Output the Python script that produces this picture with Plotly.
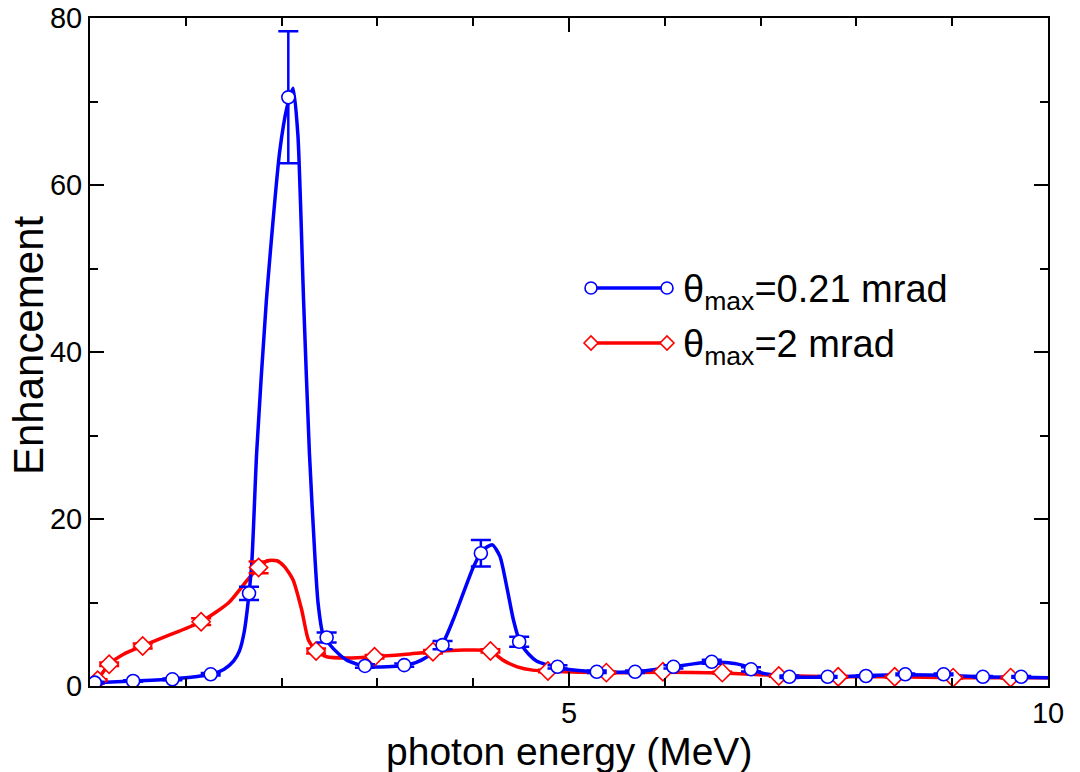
import plotly.graph_objects as go

# ---- measured points (markers with error bars) ----
blue_x = [0.05, 0.45, 0.86, 1.26, 1.66, 2.07, 2.47, 2.87, 3.28, 3.68, 4.08, 4.48, 4.88,
          5.29, 5.69, 6.09, 6.49, 6.90, 7.30, 7.70, 8.10, 8.51, 8.91, 9.32, 9.72]
blue_y = [0.4, 0.6, 0.8, 1.4, 11.1, 70.5, 5.8, 2.4, 2.5, 4.9, 15.9, 5.3, 2.3,
          1.7, 1.7, 2.3, 2.9, 2.0, 1.1, 1.1, 1.2, 1.4, 1.4, 1.1, 1.1]
blue_err = [0.1, 0.1, 0.1, 0.15, 0.8, 7.9, 0.6, 0.2, 0.2, 0.5, 1.6, 0.6, 0.2,
            0.15, 0.15, 0.2, 0.25, 0.25, 0.15, 0.1, 0.1, 0.1, 0.1, 0.1, 0.1]

red_x = [0.08, 0.20, 0.55, 1.16, 1.76, 2.36, 2.97, 3.58, 4.18, 4.78, 5.39, 5.98,
         6.60, 7.19, 7.81, 8.40, 9.01, 9.61]
red_y = [0.7, 2.6, 4.8, 7.7, 14.2, 4.2, 3.5, 4.1, 4.2, 1.8, 1.6, 1.7,
         1.6, 1.2, 1.1, 1.1, 1.0, 1.0]
red_err = [0.1, 0.2, 0.3, 0.4, 0.7, 0.3, 0.2, 0.2, 0.2, 0.15, 0.1, 0.1,
           0.1, 0.1, 0.1, 0.1, 0.1, 0.1]

# ---- smooth fitted curves ----
blue_curve_x = [0.0, 0.45, 0.86, 1.1, 1.26, 1.4, 1.5, 1.56, 1.61, 1.65, 1.69, 1.74, 1.84,
                1.98, 2.06, 2.12, 2.17, 2.23, 2.29, 2.35, 2.38, 2.43, 2.5, 2.6, 2.68, 2.87,
                3.1, 3.27, 3.4, 3.52, 3.68, 3.79, 3.86, 4.0, 4.1, 4.2, 4.28, 4.35, 4.42,
                4.49, 4.58, 4.66, 4.87, 5.1, 5.29, 5.7, 6.09, 6.49, 6.75, 6.89, 7.0, 7.15,
                7.3, 7.7, 8.1, 8.5, 8.9, 9.3, 9.7, 10.0]
blue_curve_y = [0.35, 0.6, 0.85, 1.1, 1.4, 2.0, 3.0, 4.2, 6.5, 10.0, 15.0, 28.0, 46.0,
                64.0, 69.5, 71.6, 66.0, 46.0, 28.0, 15.0, 10.0, 6.3, 5.0, 3.8, 3.1, 2.35,
                2.3, 2.45, 2.8, 3.5, 5.1, 7.9, 10.0, 14.2, 16.3, 16.9, 15.5, 11.9, 7.9,
                5.2, 3.8, 3.0, 2.2, 1.85, 1.7, 1.7, 2.3, 2.9, 2.65, 2.2, 1.6, 1.3,
                1.1, 1.05, 1.25, 1.35, 1.3, 1.1, 1.05, 1.0]

red_curve_x = [0.0, 0.08, 0.2, 0.35, 0.55, 0.85, 1.16, 1.45, 1.65, 1.76, 1.85, 1.95, 2.03,
               2.12, 2.21, 2.28, 2.36, 2.47, 2.68, 2.97, 3.3, 3.58, 3.9, 4.18, 4.31, 4.46,
               4.62, 4.78, 5.39, 5.98, 6.6, 7.19, 7.81, 8.4, 9.01, 9.61, 10.0]
red_curve_y = [0.1, 0.8, 2.6, 3.8, 4.8, 6.2, 7.7, 10.0, 12.8, 14.2, 15.0, 15.0, 14.3,
               12.7, 9.1, 5.5, 4.2, 3.5, 3.35, 3.5, 3.8, 4.1, 4.3, 4.2, 3.1, 2.3,
               1.9, 1.8, 1.6, 1.65, 1.55, 1.25, 1.1, 1.1, 1.0, 1.0, 1.0]

x_tickvals = [5, 10]
x_ticktext = ["5", "10"]
y_tickvals = [0, 20, 40, 60, 80]
legend_labels = ["θ<sub>max</sub>=0.21 mrad", "θ<sub>max</sub>=2 mrad"]
x_title = "photon energy (MeV)"
y_title = "Enhancement"

BLUE = "#0000ff"
RED = "#ff0000"
FONT = "Arial, Liberation Sans, Helvetica, sans-serif"

fig = go.Figure()

fig.add_trace(go.Scatter(x=red_curve_x, y=red_curve_y, mode="lines",
                         line=dict(color=RED, width=3.5, shape="spline", smoothing=0.6),
                         showlegend=False, hoverinfo="skip"))
fig.add_trace(go.Scatter(x=blue_curve_x, y=blue_curve_y, mode="lines",
                         line=dict(color=BLUE, width=3.5, shape="spline", smoothing=0.6),
                         showlegend=False, hoverinfo="skip"))

fig.add_trace(go.Scatter(x=red_x, y=red_y, mode="markers", name=legend_labels[1],
                         marker=dict(symbol="diamond", size=14, color="white",
                                     line=dict(color=RED, width=1.6)),
                         error_y=dict(type="data", array=red_err, color=RED,
                                      thickness=2.5, width=10),
                         showlegend=False))
fig.add_trace(go.Scatter(x=blue_x, y=blue_y, mode="markers", name=legend_labels[0],
                         marker=dict(symbol="circle", size=13, color="white",
                                     line=dict(color=BLUE, width=1.6)),
                         error_y=dict(type="data", array=blue_err, color=BLUE,
                                      thickness=2.5, width=10),
                         showlegend=False))

# ---- custom legend (line with markers at both ends) ----
L, T, W, H = 90, 18, 958, 668


def px(xp):
    return (xp - L) / W


def py(yp):
    return (T + H - yp) / H


shapes = []
annotations = []
for yy, col, sym, lab in [(288, BLUE, "circle", legend_labels[0]),
                          (343, RED, "diamond", legend_labels[1])]:
    shapes.append(dict(type="line", xref="paper", yref="paper",
                       x0=px(591), x1=px(667), y0=py(yy), y1=py(yy),
                       line=dict(color=col, width=3.5)))
    for xe in (591, 667):
        if sym == "circle":
            shapes.append(dict(type="circle", xref="paper", yref="paper",
                               xsizemode="pixel", ysizemode="pixel",
                               xanchor=px(xe), yanchor=py(yy),
                               x0=-6, x1=6, y0=-6, y1=6,
                               fillcolor="white", line=dict(color=col, width=1.6)))
        else:
            shapes.append(dict(type="path", xref="paper", yref="paper",
                               xsizemode="pixel", ysizemode="pixel",
                               xanchor=px(xe), yanchor=py(yy),
                               path="M -7 0 L 0 7 L 7 0 L 0 -7 Z",
                               fillcolor="white", line=dict(color=col, width=1.6)))
    annotations.append(dict(x=px(681), y=py(yy + 4), xref="paper", yref="paper",
                            text=lab, showarrow=False, xanchor="left", yanchor="middle",
                            font=dict(size=38, color="black", family=FONT)))

# axis titles as annotations for exact placement
annotations.append(dict(x=0.5, y=py(751), xref="paper", yref="paper", text=x_title,
                        showarrow=False, xanchor="center", yanchor="middle",
                        font=dict(size=39, color="black", family=FONT)))
annotations.append(dict(x=px(28), y=py(345), xref="paper", yref="paper", text=y_title,
                        showarrow=False, xanchor="center", yanchor="middle", textangle=-90,
                        font=dict(size=42, color="black", family=FONT)))

axis_common = dict(showline=True, linecolor="black", linewidth=2, mirror="ticks",
                   ticks="inside", ticklen=14, tickwidth=2, tickcolor="black",
                   showgrid=False, zeroline=False,
                   tickfont=dict(size=29, color="black", family=FONT))

fig.update_xaxes(range=[0, 10], tickvals=x_tickvals, ticktext=x_ticktext,
                 minor=dict(dtick=1, ticks="inside", ticklen=8, tickwidth=2,
                            tickcolor="black", showgrid=False),
                 **axis_common)
fig.update_yaxes(range=[0, 80], tickvals=y_tickvals,
                 minor=dict(dtick=10, ticks="inside", ticklen=8, tickwidth=2,
                            tickcolor="black", showgrid=False),
                 **axis_common)

fig.update_layout(width=1080, height=772, autosize=False,
                  margin=dict(l=L, r=1080 - L - W, t=T, b=772 - T - H, autoexpand=False),
                  paper_bgcolor="white", plot_bgcolor="white",
                  shapes=shapes, annotations=annotations, showlegend=False)

fig.write_html("out.html")
